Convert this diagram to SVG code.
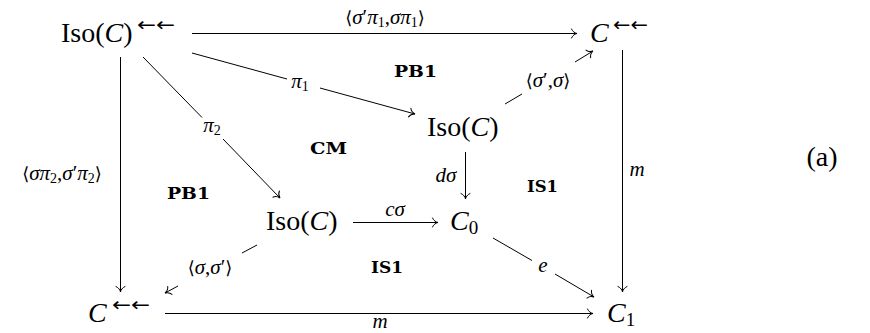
<svg xmlns="http://www.w3.org/2000/svg" width="870" height="333" viewBox="0 0 870 333">
<style>
.n{font-family:"Liberation Serif",serif;font-size:28px;fill:#000}
.i{font-style:italic}
.sup{font-family:"DejaVu Sans",sans-serif;font-size:19px;fill:#000}
.lb{font-family:"Liberation Serif",serif;font-size:21px;fill:#000}
.ang{font-family:"DejaVu Serif",serif;font-size:18px}
.bd{font-family:"DejaVu Serif",serif;font-size:16px;font-weight:bold;fill:#000}
.e{stroke:#000;stroke-width:1;fill:none}
.a{marker-end:url(#ah)}
</style>
<defs>
<marker id="ah" markerUnits="userSpaceOnUse" orient="auto" markerWidth="12" markerHeight="12" refX="0" refY="0" viewBox="-7 -6 8 12" overflow="visible">
<path d="M-5.5,-4.5 C-4.5,-1.8 -1.8,-0.4 0,0 C-1.8,0.4 -4.5,1.8 -5.5,4.5" stroke="#000" stroke-width="1" fill="none" stroke-linecap="round"/>
</marker>
</defs>
<g id="connectors">
<line class="e a" x1="192" y1="33.5" x2="577" y2="33.5"/>
<text class="lb" x="385" y="24" text-anchor="middle"><tspan class="ang">⟨</tspan><tspan class="i">σ</tspan>′<tspan class="i">π</tspan><tspan font-size="14" dy="3">1</tspan><tspan dy="-3">,</tspan><tspan class="i">σπ</tspan><tspan font-size="14" dy="3">1</tspan><tspan dy="-3" class="ang">⟩</tspan></text>
<line class="e" x1="192" y1="53" x2="287" y2="79"/>
<line class="e a" x1="320" y1="88" x2="415" y2="114"/>
<text class="lb" x="300" y="88" text-anchor="middle"><tspan class="i">π</tspan><tspan font-size="14" dy="3">1</tspan></text>
<line class="e" x1="143" y1="57" x2="202" y2="117.5"/>
<line class="e a" x1="223" y1="139" x2="280" y2="198"/>
<text class="lb" x="212" y="132" text-anchor="middle"><tspan class="i">π</tspan><tspan font-size="14" dy="3">2</tspan></text>
<line class="e a" x1="120.5" y1="57" x2="120.5" y2="292"/>
<text class="lb" x="62" y="180" text-anchor="middle"><tspan class="ang">⟨</tspan><tspan class="i">σπ</tspan><tspan font-size="14" dy="3">2</tspan><tspan dy="-3">,</tspan><tspan class="i">σ</tspan>′<tspan class="i">π</tspan><tspan font-size="14" dy="3">2</tspan><tspan dy="-3" class="ang">⟩</tspan></text>
<line class="e a" x1="622.5" y1="50" x2="622.5" y2="292"/>
<text class="lb i" x="637" y="176" text-anchor="middle">m</text>
<line class="e" x1="505" y1="104" x2="522" y2="94"/>
<line class="e a" x1="575" y1="62" x2="593" y2="51"/>
<text class="lb" x="548" y="87" text-anchor="middle"><tspan class="ang">⟨</tspan><tspan class="i">σ</tspan>′,<tspan class="i">σ</tspan><tspan class="ang">⟩</tspan></text>
<line class="e a" x1="465.5" y1="152" x2="465.5" y2="199"/>
<text class="lb i" x="446" y="182" text-anchor="middle">dσ</text>
<line class="e a" x1="353" y1="222.5" x2="438" y2="222.5"/>
<text class="lb i" x="395" y="216" text-anchor="middle">cσ</text>
<line class="e" x1="493" y1="238" x2="532" y2="260.5"/>
<line class="e a" x1="555" y1="274" x2="594" y2="297"/>
<text class="lb i" x="543" y="272" text-anchor="middle">e</text>
<line class="e" x1="257" y1="245" x2="242" y2="253"/>
<line class="e a" x1="178" y1="286" x2="165" y2="293"/>
<text class="lb" x="210" y="274" text-anchor="middle"><tspan class="ang">⟨</tspan><tspan class="i">σ</tspan>,<tspan class="i">σ</tspan>′<tspan class="ang">⟩</tspan></text>
<line class="e a" x1="165" y1="313.5" x2="593" y2="313.5"/>
<text class="lb i" x="380" y="328" text-anchor="middle">m</text>
</g>
<g id="isoTL"><text class="n" x="61" y="42">Iso(<tspan class="i">C</tspan>)</text><text class="sup" x="137" y="31" textLength="38" lengthAdjust="spacingAndGlyphs">←←</text></g>
<g id="cTR"><text class="n i" x="590" y="42">C</text><text class="sup" x="613" y="31" textLength="35" lengthAdjust="spacingAndGlyphs">←←</text></g>
<g id="isoMR"><text class="n" x="427" y="136">Iso(<tspan class="i">C</tspan>)</text></g>
<g id="isoML"><text class="n" x="266" y="230">Iso(<tspan class="i">C</tspan>)</text></g>
<g id="c0"><text class="n" x="450" y="230"><tspan class="i">C</tspan><tspan font-size="19" dy="4">0</tspan></text></g>
<g id="cBL"><text class="n i" x="88" y="322">C</text><text class="sup" x="112" y="311" textLength="38" lengthAdjust="spacingAndGlyphs">←←</text></g>
<g id="c1"><text class="n" x="607" y="322"><tspan class="i">C</tspan><tspan font-size="19" dy="4">1</tspan></text></g>
<g id="regions">
<text class="bd" x="394" y="77" textLength="43" lengthAdjust="spacingAndGlyphs">PB1</text>
<text class="bd" x="310" y="154" textLength="37" lengthAdjust="spacingAndGlyphs">CM</text>
<text class="bd" x="167" y="199" textLength="43" lengthAdjust="spacingAndGlyphs">PB1</text>
<text class="bd" x="527" y="192" textLength="31" lengthAdjust="spacingAndGlyphs">IS1</text>
<text class="bd" x="371" y="273" textLength="32" lengthAdjust="spacingAndGlyphs">IS1</text>
</g>
<text class="n" x="822" y="166" font-size="22" text-anchor="middle">(a)</text>
</svg>
